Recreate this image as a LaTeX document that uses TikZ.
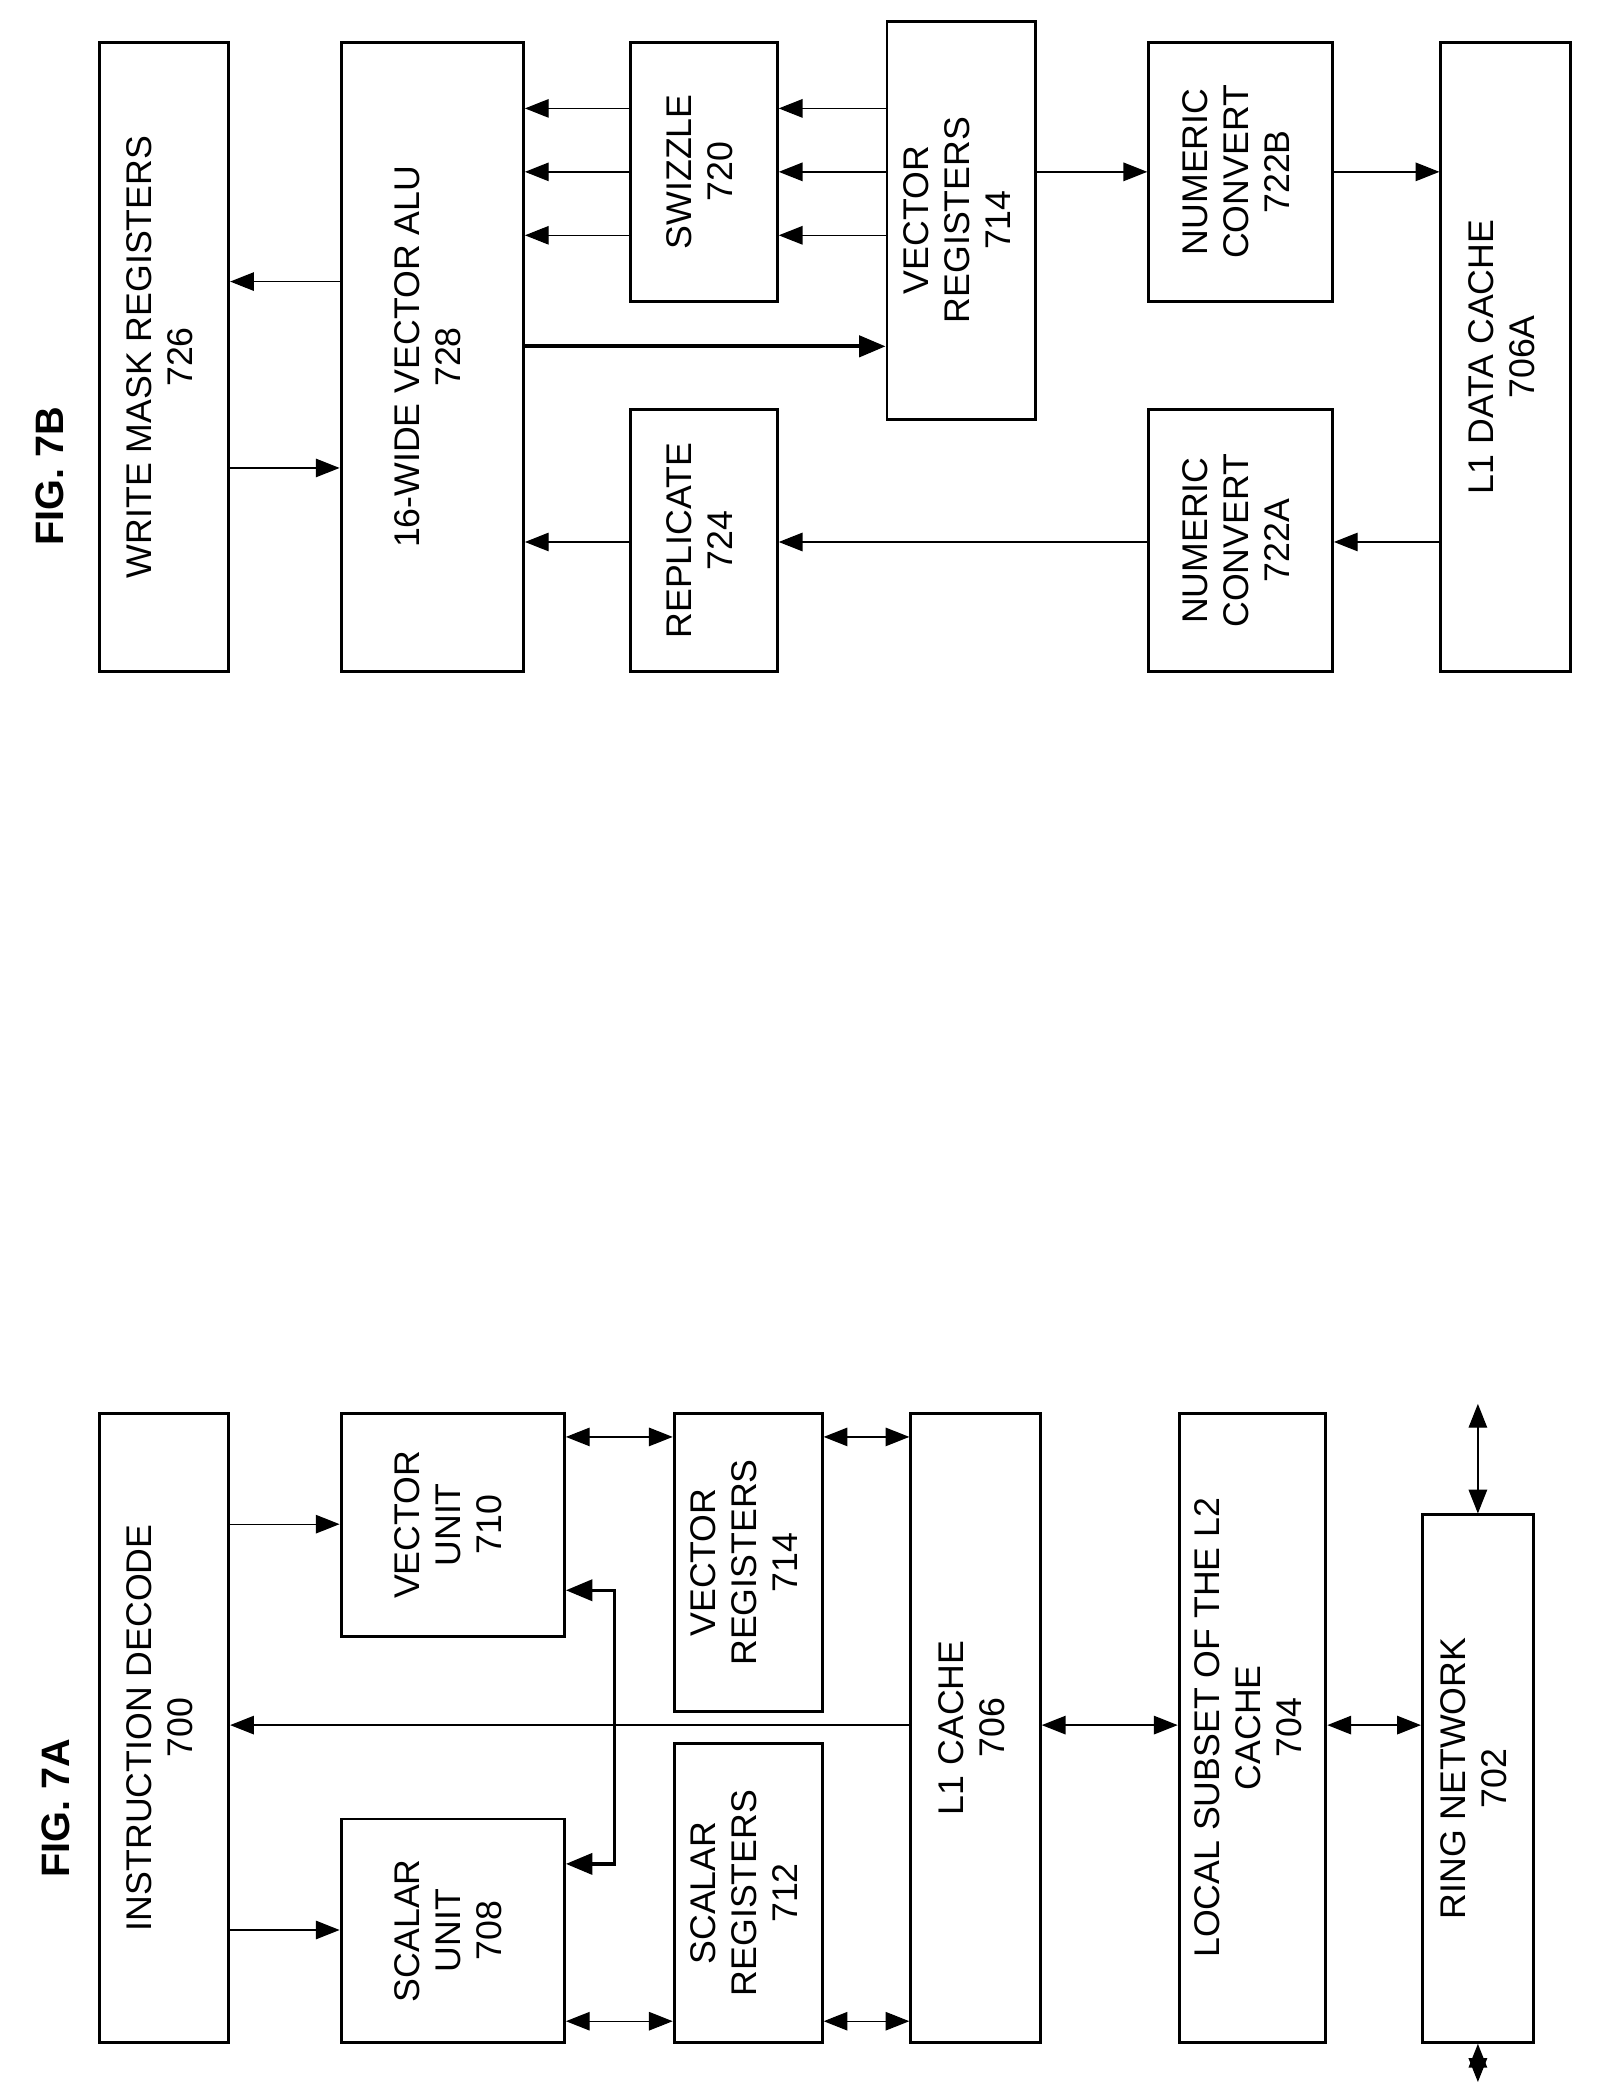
\documentclass[tikz,border=0pt]{standalone}
\usepackage{fontspec}
\setmainfont{Liberation Sans}
\usetikzlibrary{arrows.meta}
\newcommand\bx[6]{%
 \pgfmathsetmacro\cxx{(#2+#4)/2}\pgfmathsetmacro\cyy{-(#3+#5)/2}%
 \pgfmathsetmacro\ww{#4-#2}\pgfmathsetmacro\hh{#5-#3}%
 \node[box,minimum width=\ww pt,minimum height=\hh pt] (#1) at (\cxx pt,\cyy pt) {\rotatebox{90}{\begin{tabular}{@{}c@{}}#6\end{tabular}}};}
\begin{document}
\begin{tikzpicture}[x=1pt,y=1pt,
 box/.style={draw,line width=2.2pt,inner sep=0pt,font=\fontsize{27}{31}\selectfont},
 arr/.style={line width=1pt,-{Triangle[length=18pt,width=14pt]}},
 darr/.style={line width=1pt,{Triangle[length=18pt,width=14pt]}-{Triangle[length=18pt,width=14pt]}},
 thk/.style={line width=3pt,-{Triangle[length=20pt,width=16pt]}},
 lbl/.style={font=\fontsize{30}{34}\selectfont\bfseries,rotate=90}]
\useasboundingbox (0,0) rectangle (1210,-1575);
% FIG 7B
\node[lbl] (f7b) at (38,-360) {FIG. 7B};
\bx{wmr}{75}{32}{173}{508}{WRITE MASK REGISTERS\\726}
\bx{alu}{258}{32}{396}{508}{16-WIDE VECTOR ALU\\728}
\bx{swz}{477}{32}{588}{228}{SWIZZLE\\720}
\bx{vrb}{671}{16}{783}{317}{VECTOR\\REGISTERS\\714}
\bx{rep}{477}{310}{588}{508}{REPLICATE\\724}
\bx{ncb}{869}{32}{1008}{228}{NUMERIC\\CONVERT\\722B}
\bx{nca}{869}{310}{1008}{508}{NUMERIC\\CONVERT\\722A}
\bx{l1d}{1090}{32}{1188}{508}{L1 DATA CACHE\\706A}
\draw[arr] (alu.west |- 0,-213) -- (wmr.east |- 0,-213);
\draw[arr] (wmr.east |- 0,-354) -- (alu.west |- 0,-354);
\foreach \yy in {82,130,178}{
 \draw[arr] (swz.west |- 0,-\yy) -- (alu.east |- 0,-\yy);
 \draw[arr] (vrb.west |- 0,-\yy) -- (swz.east |- 0,-\yy);}
\draw[thk] (alu.east |- 0,-262) -- (vrb.west |- 0,-262);
\draw[arr] (vrb.east |- 0,-130) -- (ncb.west |- 0,-130);
\draw[arr] (ncb.east |- 0,-130) -- (l1d.west |- 0,-130);
\draw[arr] (l1d.west |- 0,-410) -- (nca.east |- 0,-410);
\draw[arr] (nca.west |- 0,-410) -- (rep.east |- 0,-410);
\draw[arr] (rep.west |- 0,-410) -- (alu.east |- 0,-410);
% FIG 7A
\node[lbl] (f7a) at (42,-1368) {FIG. 7A};
\bx{id}{75}{1069}{173}{1545}{INSTRUCTION DECODE\\700}
\bx{vu}{258}{1069}{427}{1238}{VECTOR\\UNIT\\710}
\bx{su}{258}{1376}{427}{1545}{SCALAR\\UNIT\\708}
\bx{vra}{510}{1069}{622}{1295}{VECTOR\\REGISTERS\\714}
\bx{sr}{510}{1319}{622}{1545}{SCALAR\\REGISTERS\\712}
\bx{l1}{689}{1069}{787}{1545}{L1 CACHE\\706}
\bx{l2}{892}{1069}{1003}{1545}{LOCAL SUBSET OF THE L2\\CACHE\\704}
\bx{ring}{1076}{1146}{1160}{1545}{RING NETWORK\\702}
\coordinate (rt) at (1118,-1062);
\coordinate (rb) at (1118,-1575);
\draw[arr] (id.east |- 0,-1153) -- (vu.west |- 0,-1153);
\draw[arr] (id.east |- 0,-1460) -- (su.west |- 0,-1460);
\draw[arr] (l1.west |- 0,-1305) -- (id.east |- 0,-1305);
\draw[darr] (vu.east |- 0,-1087) -- (vra.west |- 0,-1087);
\draw[darr] (su.east |- 0,-1529) -- (sr.west |- 0,-1529);
\draw[darr] (vra.east |- 0,-1087) -- (l1.west |- 0,-1087);
\draw[darr] (sr.east |- 0,-1529) -- (l1.west |- 0,-1529);
\draw[darr] (l1.east |- 0,-1305) -- (l2.west |- 0,-1305);
\draw[darr] (l2.east |- 0,-1305) -- (ring.west |- 0,-1305);
\draw[darr] (rt) -- (ring.north);
\draw[darr] (ring.south) -- (rb);
\draw[line width=2.5pt,{Triangle[length=20pt,width=16pt]}-{Triangle[length=20pt,width=16pt]}]
 (vu.east |- 0,-1203) -| (465,-1306) |- (su.east |- 0,-1410);
\end{tikzpicture}
\end{document}
